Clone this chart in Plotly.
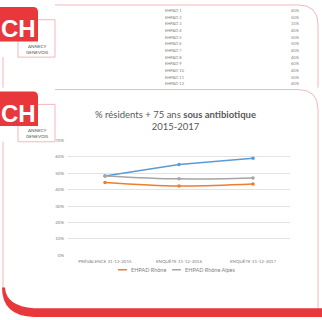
import plotly.graph_objects as go

W, H = 322, 320

# Chart data: share of residents aged 75+ on antibiotics
periods = ["PRÉVALENCE 31-12-2015", "ENQUÊTE 31-12-2016", "ENQUÊTE 31-12-2017"]
ehpad_ch = [0.484, 0.554, 0.592]
ehpad_rhone = [0.444, 0.422, 0.434]
ehpad_rhone_alpes = [0.484, 0.466, 0.472]
y_ticks = [0, 0.1, 0.2, 0.3, 0.4, 0.5, 0.6, 0.7]
y_tick_labels = ["0%", "10%", "20%", "30%", "40%", "50%", "60%", "70%"]

# Table shown on the upper slide
table_rows = ["EHPAD 1", "EHPAD 2", "EHPAD 3", "EHPAD 4", "EHPAD 5", "EHPAD 6",
              "EHPAD 7", "EHPAD 8", "EHPAD 9", "EHPAD 10", "EHPAD 11", "EHPAD 12"]
table_vals = ["40%", "50%", "33%", "40%", "50%", "50%",
              "40%", "40%", "60%", "40%", "50%", "40%"]

RED = "#E8383B"
PINK = "#F3B7BC"
FONT = "Lato"
C_CH, C_RH, C_RA = "#5B9BD5", "#ED7D31", "#A5A5A5"


def px(x):
    return x / W


def py(y):
    return 1 - y / H


def path(points_cmds):
    out = []
    for cmd, *coords in points_cmds:
        s = cmd
        for i in range(0, len(coords), 2):
            s += f" {px(coords[i]):.5f},{py(coords[i + 1]):.5f}"
        out.append(s)
    return " ".join(out)


fig = go.Figure()

series = [
    ("EHPAD CH", ehpad_ch, C_CH, "linear", False),
    ("EHPAD Rhône", ehpad_rhone, C_RH, "spline", True),
    ("EHPAD Rhône Alpes", ehpad_rhone_alpes, C_RA, "spline", True),
]
for name, vals, col, shp, _ in series:
    fig.add_trace(go.Scatter(x=periods, y=vals, mode="lines+markers", name=name,
                             line=dict(color=col, width=1.5, shape=shp),
                             marker=dict(size=3.5, color=col), showlegend=False))

shapes = []
annotations = []

# Slide frames
shapes.append(dict(type="path", xref="paper", yref="paper",
                   path=path([("M", 55, 3), ("L", 298, 3), ("Q", 318, 3, 318, 23), ("L", 318, 87)]),
                   line=dict(color=PINK, width=1)))
shapes.append(dict(type="line", xref="paper", yref="paper", x0=px(3), x1=px(3), y0=py(56), y1=py(87),
                   line=dict(color=PINK, width=1)))
shapes.append(dict(type="path", xref="paper", yref="paper",
                   path=path([("M", 55, 89), ("L", 298, 89), ("Q", 318, 89, 318, 109), ("L", 318, 312)]),
                   line=dict(color=PINK, width=1)))
shapes.append(dict(type="line", xref="paper", yref="paper", x0=px(3), x1=px(3), y0=py(142), y1=py(292),
                   line=dict(color=PINK, width=1)))
# Red swoosh and bottom band
shapes.append(dict(type="path", xref="paper", yref="paper",
                   path=path([("M", 2, 290), ("Q", 2, 319, 34, 320), ("L", 322, 320), ("L", 322, 311),
                              ("L", 34, 311), ("Q", 6, 309, 5, 290)]) + " Z",
                   fillcolor=RED, line=dict(width=0)))


def logo(top):
    shapes.append(dict(type="rect", xref="paper", yref="paper",
                       x0=px(18), x1=px(55), y0=py(top + 13), y1=py(top + 51),
                       line=dict(color=PINK, width=1)))
    shapes.append(dict(type="path", xref="paper", yref="paper",
                       path=path([("M", 0, top), ("L", 33, top), ("Q", 38, top, 38, top + 5),
                                  ("L", 38, top + 35), ("L", 0, top + 35)]) + " Z",
                       fillcolor=RED, line=dict(width=0)))
    annotations.append(dict(xref="paper", yref="paper", x=px(18), y=py(top + 22), text="<b>CH</b>",
                            showarrow=False, font=dict(family="Liberation Sans", size=24, color="white"),
                            xanchor="center", yanchor="middle"))
    annotations.append(dict(xref="paper", yref="paper", x=px(37), y=py(top + 40), text="ANNECY",
                            showarrow=False, font=dict(family=FONT, size=4.5, color="#555555"),
                            xanchor="center", yanchor="middle"))
    annotations.append(dict(xref="paper", yref="paper", x=px(37), y=py(top + 46), text="GENEVOIS",
                            showarrow=False, font=dict(family=FONT, size=4.5, color="#555555"),
                            xanchor="center", yanchor="middle"))


logo(5)
logo(91)

# Table rows on the upper slide
for i, (lab, val) in enumerate(zip(table_rows, table_vals)):
    yy = 8.5 + i * 6.8
    annotations.append(dict(xref="paper", yref="paper", x=px(163), y=py(yy), text=lab, showarrow=False,
                            font=dict(family=FONT, size=4, color="#7F7F7F"),
                            xanchor="left", yanchor="middle"))
    annotations.append(dict(xref="paper", yref="paper", x=px(295), y=py(yy), text=val, showarrow=False,
                            font=dict(family=FONT, size=4, color="#7F7F7F"),
                            xanchor="center", yanchor="middle"))

# Chart title
annotations.append(dict(xref="paper", yref="paper", x=px(175), y=py(120),
                        text="% résidents + 75 ans <b>sous antibiotique</b><br>2015-2017",
                        showarrow=False, align="center",
                        font=dict(family=FONT, size=9.5, color="#595959"),
                        xanchor="center", yanchor="middle"))

# Compact legend under the plot (entries for the two reference series)
leg_y = 272
leg_x = 118
for name, vals, col, shp, show in series:
    if not show:
        continue
    shapes.append(dict(type="line", xref="paper", yref="paper", x0=px(leg_x), x1=px(leg_x + 9),
                       y0=py(leg_y), y1=py(leg_y), line=dict(color=col, width=1.5)))
    annotations.append(dict(xref="paper", yref="paper", x=px(leg_x + 11), y=py(leg_y), text=name,
                            showarrow=False, font=dict(family=FONT, size=5.5, color="#7F7F7F"),
                            xanchor="left", yanchor="middle"))
    leg_x += 54

fig.update_layout(
    width=W, height=H,
    margin=dict(l=0, r=0, t=0, b=0),
    paper_bgcolor="white", plot_bgcolor="white",
    font=dict(family=FONT, color="#7F7F7F"),
    shapes=shapes, annotations=annotations,
    showlegend=False,
    xaxis=dict(domain=[px(68), px(290)], range=[-0.5, 2.5], showgrid=False, zeroline=False,
               showline=False, ticks="", tickfont=dict(size=4.5, color="#7F7F7F"), ticklabelstandoff=2),
    yaxis=dict(domain=[py(257.3), py(140.7)], range=[0, 0.7], tickvals=y_ticks, ticktext=y_tick_labels,
               showgrid=True, gridcolor="#E3E3E3", gridwidth=0.8, zeroline=False, showline=False,
               ticks="", tickfont=dict(size=4.5, color="#7F7F7F"), ticklabelstandoff=3),
)

fig.write_html("out.html")
